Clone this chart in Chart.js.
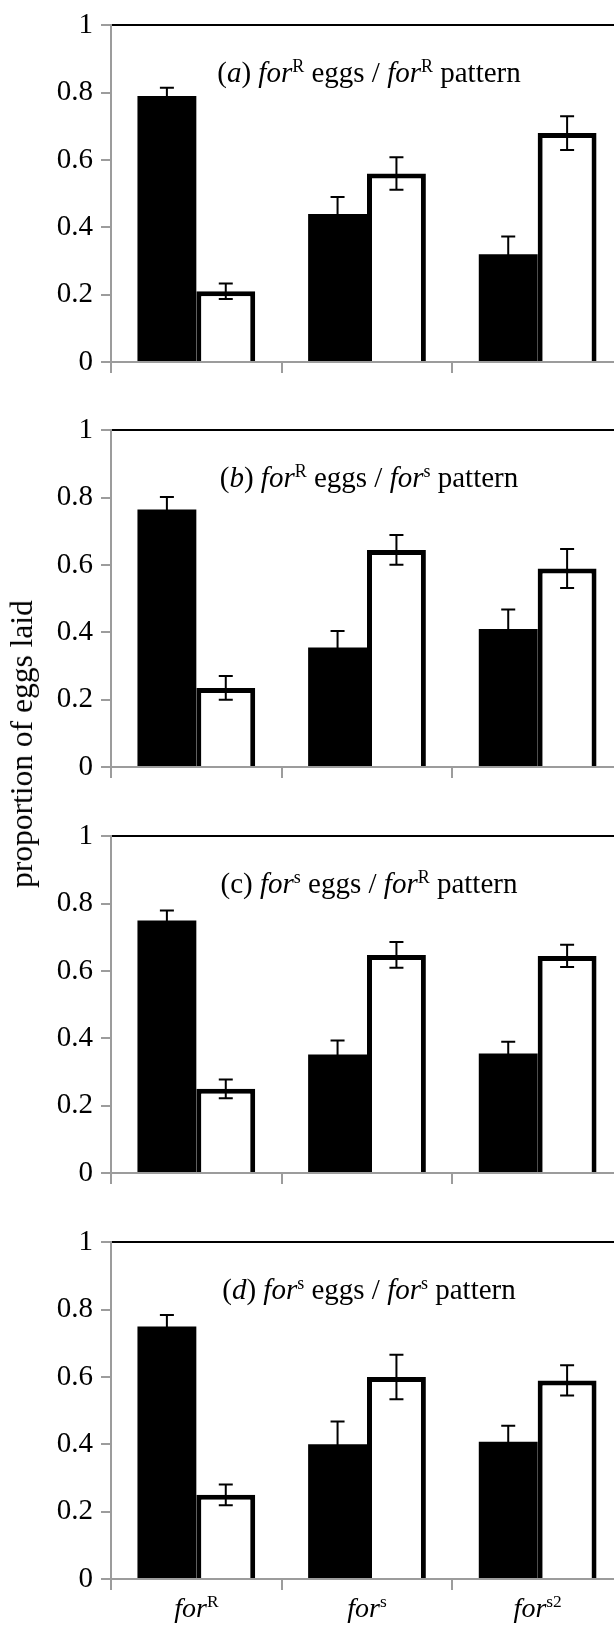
<!DOCTYPE html>
<html>
<head>
<meta charset="utf-8">
<script src="https://cdn.jsdelivr.net/npm/chart.js@4.4.1/dist/chart.umd.min.js"></script>
<style>
    html, body { margin: 0; padding: 0; background: #fff; overflow: hidden; }
    #figura { position: relative; width: 614px; height: 1625px; overflow: hidden; }
    .painel { position: absolute; left: 0; }
    #rotulo-y {
        position: absolute;
        left: 22px; top: 744px;
        transform: translate(-50%, -50%) rotate(-90deg);
        font-family: "Liberation Serif", "Times New Roman", serif;
        font-size: 31.5px;
        white-space: nowrap;
        color: #000;
    }
</style>
</head>
<body>
<div id="figura">
    <canvas id="painel-a" class="painel" width="623" height="406" style="top:0px"></canvas>
    <canvas id="painel-b" class="painel" width="623" height="406" style="top:405px"></canvas>
    <canvas id="painel-c" class="painel" width="623" height="406" style="top:811px"></canvas>
    <canvas id="painel-d" class="painel" width="623" height="406" style="top:1217px"></canvas>
    <div id="rotulo-y">proportion of eggs laid</div>
</div>
<script>
// ---------------------
// Dados
// ---------------------
const categorias = [['for', 'R'], ['for', 's'], ['for', 's2']];
const ticksY = [0, 0.2, 0.4, 0.6, 0.8, 1];

// (a) forR eggs / forR pattern
const pretoA = [0.79, 0.44, 0.32];
const erroPretoA = [0.025, 0.05, 0.053];
const brancoA = [0.21, 0.56, 0.68];
const erroBrancoA = [0.023, 0.048, 0.05];

// (b) forR eggs / fors pattern
const pretoB = [0.765, 0.355, 0.41];
const erroPretoB = [0.037, 0.049, 0.058];
const brancoB = [0.235, 0.645, 0.59];
const erroBrancoB = [0.035, 0.044, 0.058];

// (c) fors eggs / forR pattern
const pretoC = [0.75, 0.352, 0.355];
const erroPretoC = [0.03, 0.042, 0.035];
const brancoC = [0.25, 0.648, 0.645];
const erroBrancoC = [0.028, 0.038, 0.033];

// (d) fors eggs / fors pattern
const pretoD = [0.75, 0.4, 0.408];
const erroPretoD = [0.034, 0.068, 0.047];
const brancoD = [0.25, 0.6, 0.59];
const erroBrancoD = [0.031, 0.066, 0.045];

// Títulos (texto, estilo): n = normal, i = itálico, s = sobrescrito
const tituloA = [['(', 'n'], ['a', 'i'], [') ', 'n'], ['for', 'i'], ['R', 's'], [' eggs / ', 'n'], ['for', 'i'], ['R', 's'], [' pattern', 'n']];
const tituloB = [['(', 'n'], ['b', 'i'], [') ', 'n'], ['for', 'i'], ['R', 's'], [' eggs / ', 'n'], ['for', 'i'], ['s', 's'], [' pattern', 'n']];
const tituloC = [['(', 'n'], ['c', 'n'], [') ', 'n'], ['for', 'i'], ['s', 's'], [' eggs / ', 'n'], ['for', 'i'], ['R', 's'], [' pattern', 'n']];
const tituloD = [['(', 'n'], ['d', 'i'], [') ', 'n'], ['for', 'i'], ['s', 's'], [' eggs / ', 'n'], ['for', 'i'], ['s', 's'], [' pattern', 'n']];

// ---------------------
// Configurações
// ---------------------
const FONTE = '"Liberation Serif", "Times New Roman", serif';
const TAM_TICK = 29;
const TAM_TITULO = 29;
const TAM_ROTULO = 28;
const CINZA = '#9c9c9c';

// ---------------------
// Texto com sobrescrito
// ---------------------
function fonteDe(estilo, tam) {
    if (estilo === 's') return `${tam * 0.62}px ${FONTE}`;
    if (estilo === 'i') return `italic ${tam}px ${FONTE}`;
    return `${tam}px ${FONTE}`;
}

function desenharSegmentos(ctx, segs, cx, base, tam) {
    ctx.save();
    ctx.fillStyle = '#000';
    ctx.textBaseline = 'alphabetic';
    ctx.textAlign = 'left';
    let total = 0;
    const larguras = segs.map(([t, e]) => {
        ctx.font = fonteDe(e, tam);
        const w = ctx.measureText(t).width;
        total += w;
        return w;
    });
    let x = cx - total / 2;
    segs.forEach(([t, e], i) => {
        ctx.font = fonteDe(e, tam);
        const y = e === 's' ? base - tam * 0.36 : base;
        ctx.fillText(t, x, y);
        x += larguras[i];
    });
    ctx.restore();
}

// ---------------------
// Plugins
// ---------------------
const pluginErros = {
    id: 'barrasErro',
    afterDatasetsDraw(chart) {
        const ctx = chart.ctx;
        const y = chart.scales.y;
        ctx.save();
        ctx.strokeStyle = '#000';
        ctx.lineWidth = 2;
        chart.data.datasets.forEach((ds, i) => {
            chart.getDatasetMeta(i).data.forEach((bar, j) => {
                const v = ds.data[j];
                const e = ds.erros[j];
                const topo = y.getPixelForValue(v + e);
                const fundo = y.getPixelForValue(v - e);
                ctx.beginPath();
                ctx.moveTo(bar.x, topo);
                ctx.lineTo(bar.x, fundo);
                ctx.moveTo(bar.x - 7, topo);
                ctx.lineTo(bar.x + 7, topo);
                ctx.moveTo(bar.x - 7, fundo);
                ctx.lineTo(bar.x + 7, fundo);
                ctx.stroke();
            });
        });
        ctx.restore();
    }
};

const pluginTextos = {
    id: 'textos',
    afterDraw(chart, args, opts) {
        const area = chart.chartArea;
        desenharSegmentos(chart.ctx, opts.titulo, 369, area.top + 57, TAM_TITULO);
        if (opts.rotulosX) {
            const x = chart.scales.x;
            categorias.forEach(([base, sup], i) => {
                desenharSegmentos(chart.ctx, [[base, 'i'], [sup, 's']], x.getPixelForValue(i), area.bottom + 38, TAM_ROTULO);
            });
        }
    }
};

// ---------------------
// Criação dos painéis
// ---------------------
function criarPainel(id, preto, erroPreto, branco, erroBranco, titulo, rotulosX) {
    const ctx = document.getElementById(id).getContext('2d');
    return new Chart(ctx, {
        type: 'bar',
        data: {
            labels: categorias.map(c => c.join('')),
            datasets: [{
                data: preto,
                erros: erroPreto,
                backgroundColor: '#000',
                borderWidth: 0
            }, {
                data: branco,
                erros: erroBranco,
                backgroundColor: '#fff',
                borderColor: '#000',
                borderWidth: 5
            }]
        },
        options: {
            responsive: false,
            animation: false,
            categoryPercentage: 0.69,
            barPercentage: 1,
            layout: { padding: { top: 19.5, right: 0, bottom: 0, left: 0 } },
            plugins: {
                legend: { display: false },
                tooltip: { enabled: false },
                textos: { titulo, rotulosX }
            },
            scales: {
                x: {
                    grid: { offset: true, drawOnChartArea: false, color: CINZA, tickLength: 11, lineWidth: 2 },
                    border: { color: CINZA, width: 2 },
                    ticks: { callback: () => '' },
                    afterFit: s => { s.height = 44; }
                },
                y: {
                    min: 0,
                    max: 1,
                    afterBuildTicks: s => { s.ticks = ticksY.map(v => ({ value: v })); },
                    ticks: {
                        padding: 8,
                        color: '#000',
                        font: { family: FONTE, size: TAM_TICK },
                        callback: v => (v === 0 || v === 1) ? String(v) : v.toFixed(1)
                    },
                    grid: {
                        color: c => (c.tick && c.tick.value === 1) ? '#000' : 'rgba(0,0,0,0)',
                        tickColor: CINZA,
                        tickLength: 10,
                        lineWidth: 2
                    },
                    border: { color: CINZA, width: 2 },
                    afterFit: s => { s.width = 111; }
                }
            }
        },
        plugins: [pluginErros, pluginTextos]
    });
}

criarPainel('painel-a', pretoA, erroPretoA, brancoA, erroBrancoA, tituloA, false);
criarPainel('painel-b', pretoB, erroPretoB, brancoB, erroBrancoB, tituloB, false);
criarPainel('painel-c', pretoC, erroPretoC, brancoC, erroBrancoC, tituloC, false);
criarPainel('painel-d', pretoD, erroPretoD, brancoD, erroBrancoD, tituloD, true);
</script>
</body>
</html>
